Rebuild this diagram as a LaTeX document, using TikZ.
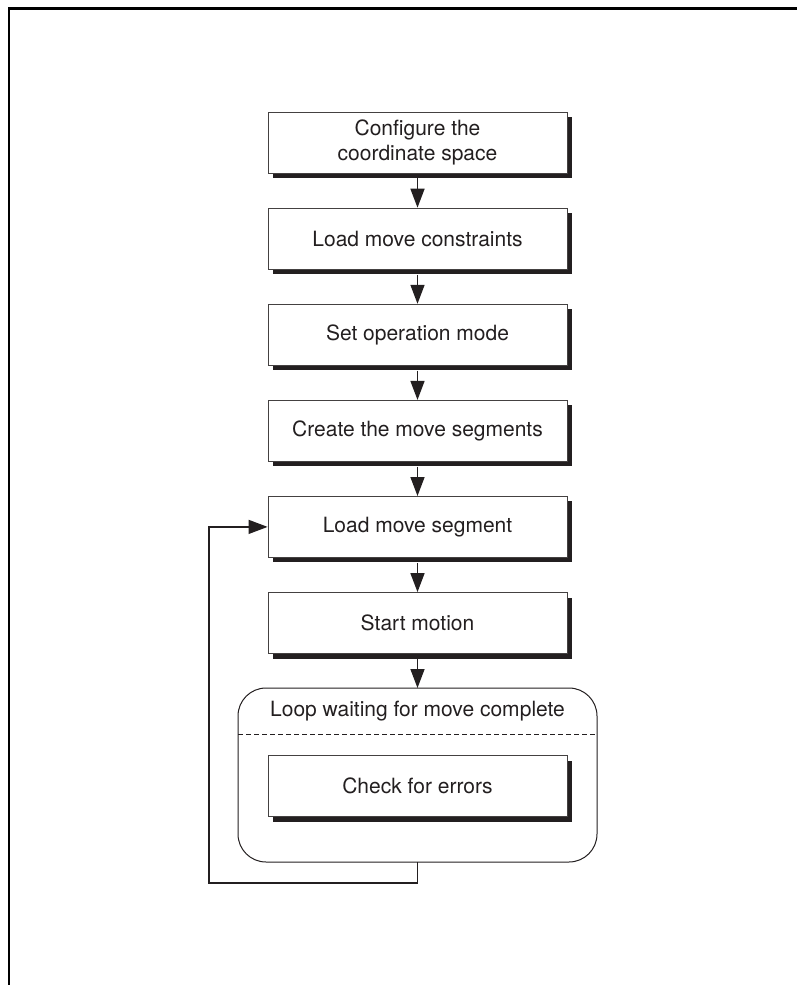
\documentclass[tikz,border=0pt]{standalone}
\usepackage{fontspec}
\setmainfont{TeX Gyre Heros}
\usetikzlibrary{arrows.meta,shadows}
\definecolor{ink}{HTML}{231F20}
\begin{document}
\begin{tikzpicture}[x=1pt,y=-1pt,
  stepbox/.style={draw=ink!85, line width=0.8pt, fill=white, minimum width=299pt, minimum height=61pt,
    inner sep=0pt, align=center, text=ink, font=\fontsize{21}{25}\selectfont,
    drop shadow={opacity=1, fill=ink, shadow xshift=5pt, shadow yshift=-5pt}},
  flow/.style={draw=ink, line width=1.5pt, -{Triangle[length=19pt,width=14pt]}},
  loopbox/.style={draw=ink, line width=1pt, rounded corners=28pt},
  frameline/.style={draw=black, line width=2.5pt}]
\useasboundingbox (0,0) rectangle (797,985);
\draw[frameline] (9,985) -- (9,8.5) -- (797,8.5);

\node[stepbox] (b1) at (417.5,142.5) {Configure the\\coordinate space};
\node[stepbox] (b2) at (417.5,238.6) {Load move constraints};
\node[stepbox] (b3) at (417.5,334.7) {Set operation mode};
\node[stepbox] (b4) at (417.5,430.8) {Create the move segments};
\node[stepbox] (b5) at (417.5,526.9) {Load move segment};
\node[stepbox] (b6) at (417.5,623) {Start motion};

\draw[loopbox] (238,688) rectangle (597,862);
\coordinate (lt) at (417.5,688);
\coordinate (lb) at (417.5,862);
\node[text=ink, font=\fontsize{21}{25}\selectfont] (lw) at (417.5,711) {Loop waiting for move complete};
\draw[ink, line width=1pt, dash pattern=on 5pt off 3pt] (238,734) -- (597,734);
\node[stepbox] (ce) at (417.5,786) {Check for errors};

\draw[flow] ([yshift=-5pt]b1.south) -- (b2.north);
\draw[flow] ([yshift=-5pt]b2.south) -- (b3.north);
\draw[flow] ([yshift=-5pt]b3.south) -- (b4.north);
\draw[flow] ([yshift=-5pt]b4.south) -- (b5.north);
\draw[flow] ([yshift=-5pt]b5.south) -- (b6.north);
\draw[flow] ([yshift=-5pt]b6.south) -- (lt);
\coordinate (c1) at (417.5,883);
\coordinate (c2) at (209,883);
\draw[flow, line width=1.2pt] (lb) -- (c1) -- (c2) |- (b5.west);
\end{tikzpicture}
\end{document}
